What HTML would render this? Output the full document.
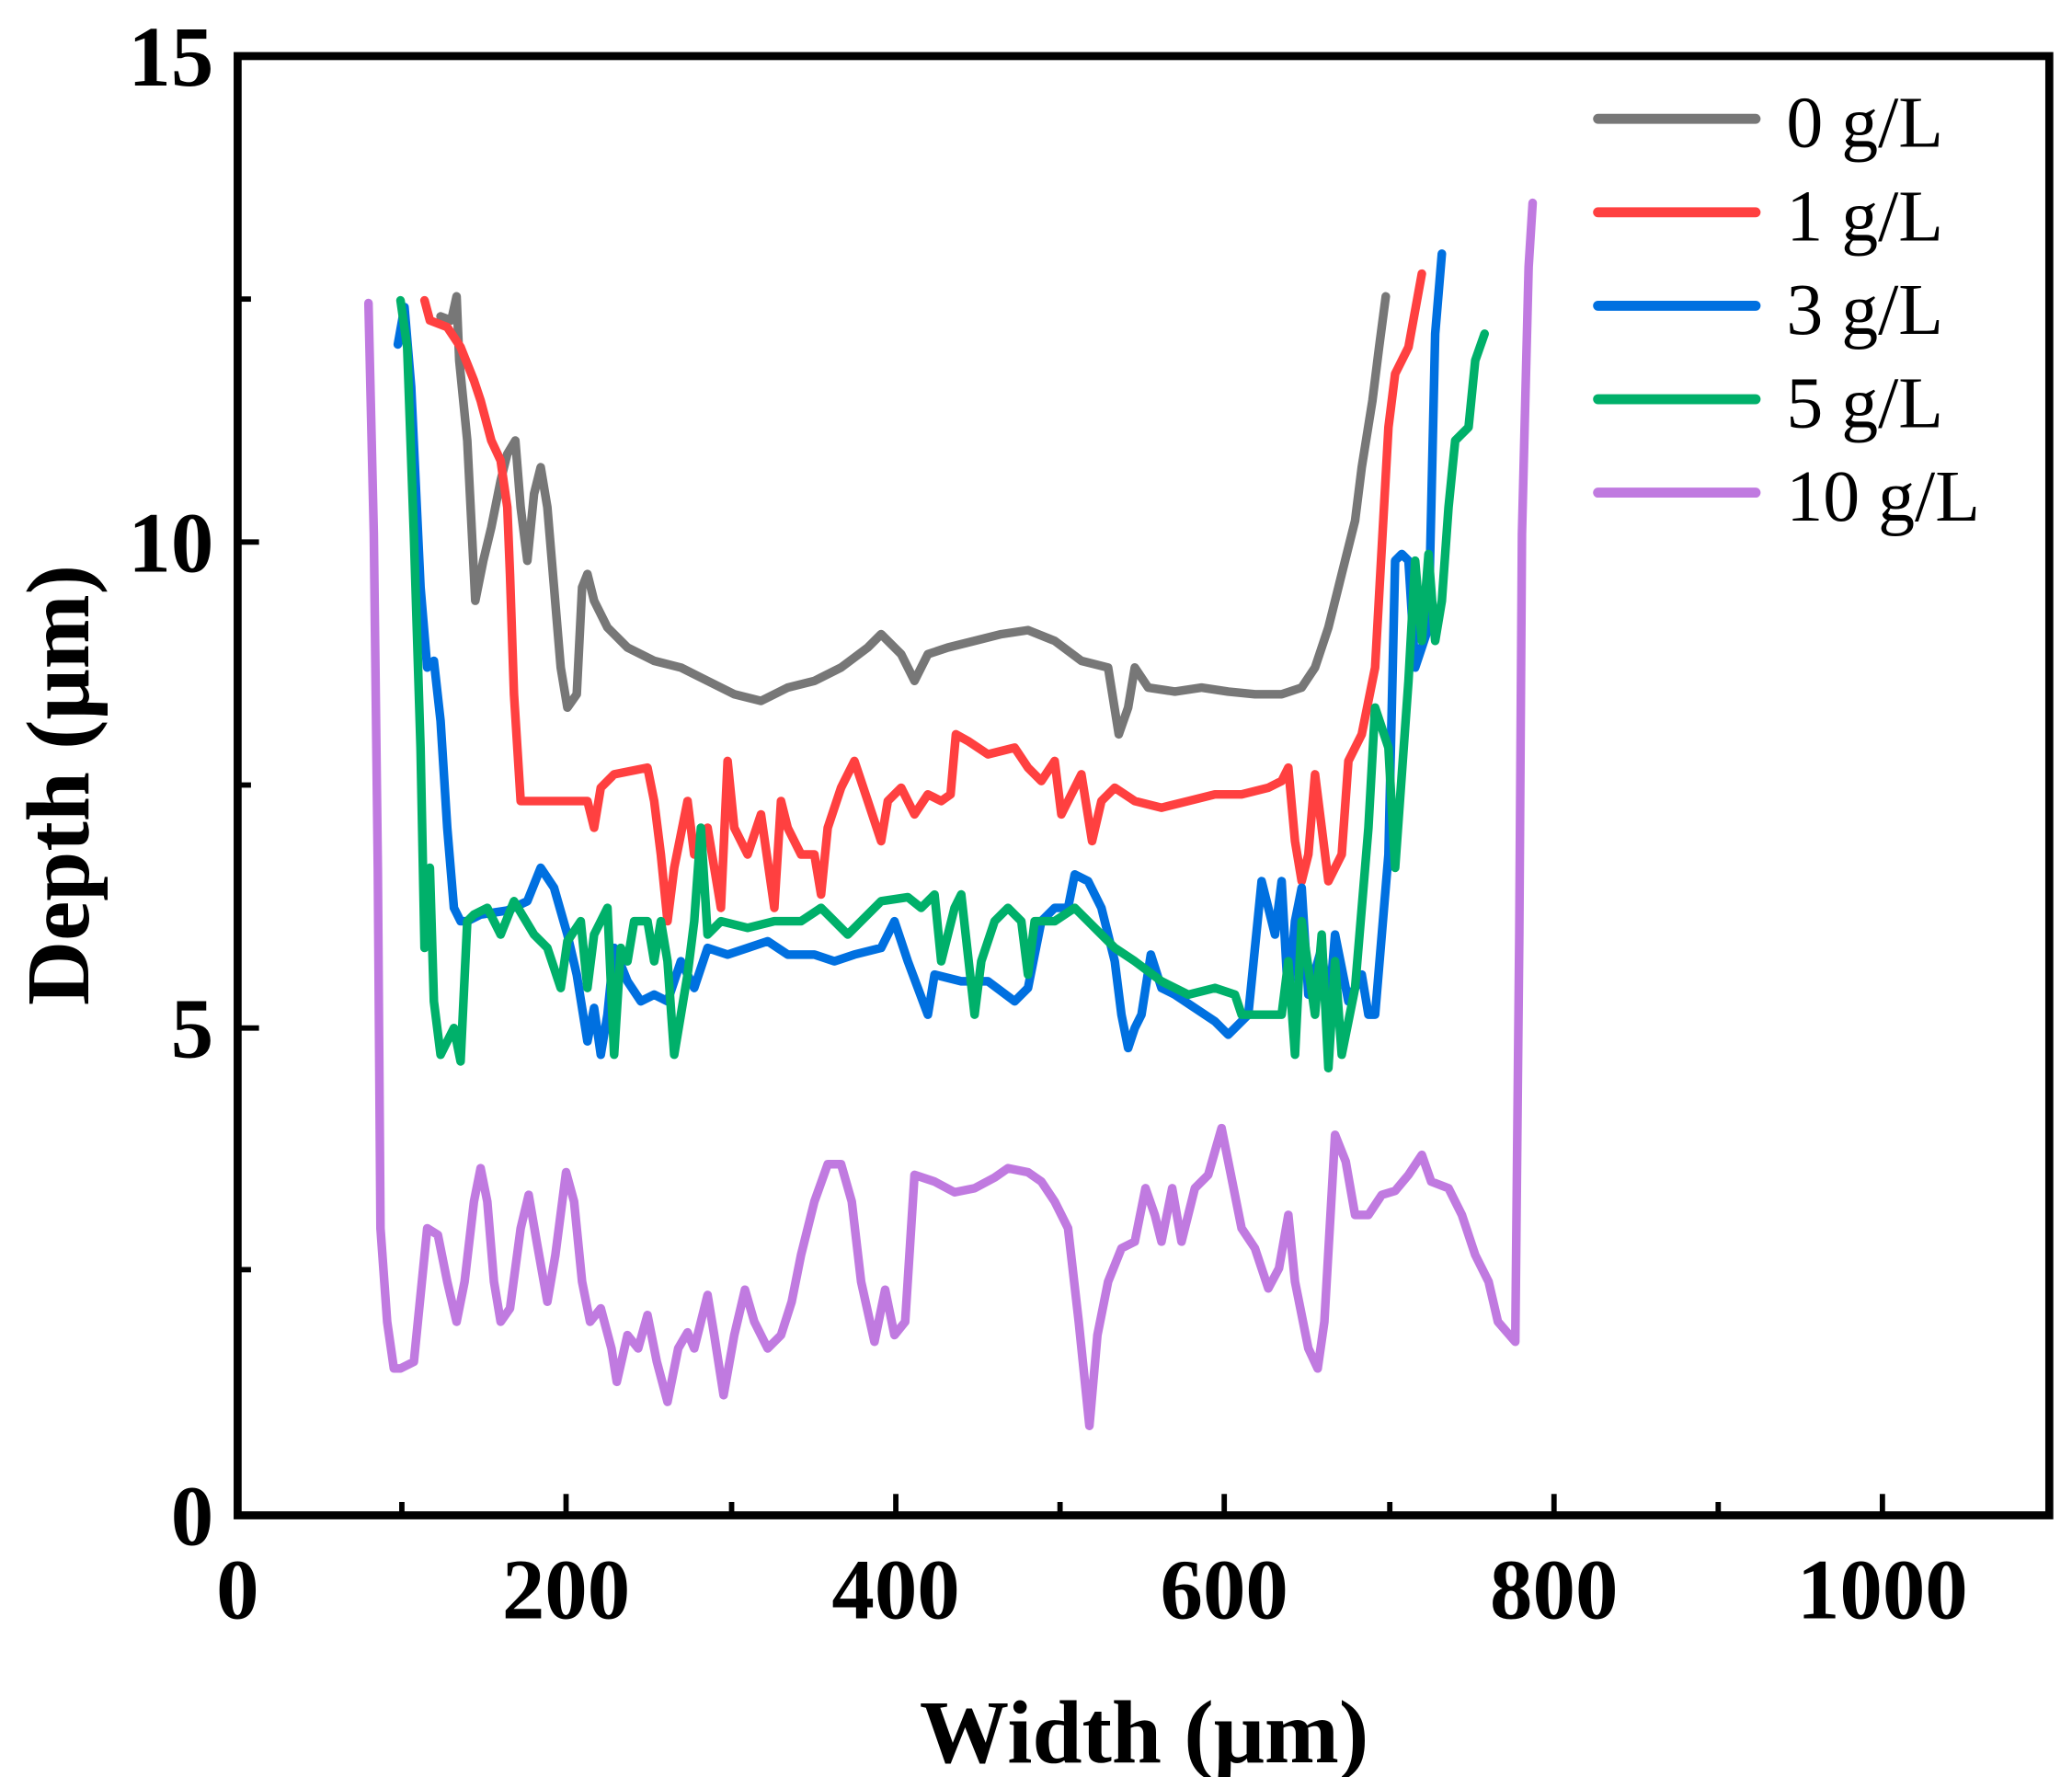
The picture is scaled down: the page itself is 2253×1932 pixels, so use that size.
<!DOCTYPE html>
<html><head><meta charset="utf-8"><style>html,body{margin:0;padding:0;background:#fff}svg{display:block}</style></head>
<body>
<svg width="2253" height="1932" viewBox="0 0 1552 1331" preserveAspectRatio="none" xmlns="http://www.w3.org/2000/svg">
<g fill="none" stroke-width="6.5" stroke-linejoin="round" stroke-linecap="round">
<polyline stroke="#777777" points="330,237 338,240 342,222 344,270 350,330 356,450 362,420 368,395 375,360 380,340 386,330 390,380 395,420 400,370 405,350 410,380 415,440 420,500 425,530 432,520 436,440 440,430 445,450 455,470 470,485 490,495 510,500 530,510 550,520 570,525 590,515 610,510 630,500 650,485 660,475 675,490 685,510 695,490 710,485 730,480 750,475 770,472 790,480 810,495 830,500 838,550 845,530 850,500 860,515 880,518 900,515 920,518 940,520 960,520 975,515 985,500 995,470 1005,430 1015,390 1020,350 1028,300 1033,260 1038,222"/>
<polyline stroke="#ff4040" points="318,225 322,240 335,245 345,260 355,285 360,300 368,330 375,345 380,380 382,430 385,520 390,600 400,600 440,600 445,620 450,590 460,580 485,575 490,600 495,640 500,690 505,650 515,600 520,640 530,620 540,680 545,570 550,620 560,640 570,610 580,680 585,600 590,620 600,640 610,640 615,670 620,620 630,590 640,570 650,600 660,630 665,600 675,590 685,610 695,595 705,600 712,595 716,550 725,555 740,565 760,560 770,575 780,585 790,570 795,610 810,580 818,630 825,600 835,590 850,600 870,605 890,600 910,595 930,595 950,590 960,585 965,575 970,630 975,660 980,640 985,580 990,620 995,660 1005,640 1010,570 1020,550 1030,500 1040,320 1045,280 1055,260 1065,205"/>
<polyline stroke="#0070e0" points="298,258 303,230 308,290 315,440 320,500 325,495 330,540 335,620 340,680 345,690 350,690 360,685 380,682 395,675 405,650 415,665 425,700 432,730 440,780 445,755 450,790 455,760 460,710 470,735 480,750 490,745 500,750 510,720 520,740 530,710 545,715 560,710 575,705 590,715 610,715 625,720 640,715 660,710 670,690 680,720 695,760 700,730 720,735 740,735 760,750 770,740 780,690 790,680 800,680 805,655 815,660 825,680 835,720 840,760 845,785 850,770 855,760 862,715 870,740 880,745 895,755 910,765 920,775 935,760 945,660 955,700 960,660 965,750 970,690 975,665 980,745 990,710 995,760 1000,700 1010,750 1020,730 1025,760 1030,760 1040,640 1045,420 1050,415 1055,420 1060,500 1070,470 1075,250 1080,190"/>
<polyline stroke="#00b06a" points="300,225 305,260 310,400 315,560 318,710 322,650 325,750 330,790 340,770 345,795 350,690 355,685 365,680 375,700 385,675 400,700 410,710 420,740 425,705 435,690 440,740 445,700 455,680 460,790 465,710 470,720 475,690 485,690 490,720 495,690 500,720 505,790 510,760 515,730 520,690 525,620 530,700 540,690 560,695 580,690 600,690 615,680 625,690 635,700 645,690 660,675 680,672 690,680 700,670 705,720 715,680 720,670 730,760 735,720 745,690 755,680 765,690 770,730 775,690 790,690 805,680 815,690 825,700 835,710 850,720 870,735 890,745 910,740 925,745 930,760 940,760 960,760 965,720 970,790 975,690 985,760 990,700 995,800 1000,720 1005,790 1015,740 1020,680 1025,620 1030,530 1040,560 1045,650 1055,510 1060,420 1065,480 1070,415 1075,480 1080,450 1085,380 1090,330 1100,320 1105,270 1112,250"/>
<polyline stroke="#c07ae0" points="276,227 280,400 283,650 285,920 290,990 295,1025 300,1025 310,1020 315,970 320,920 328,925 335,960 342,990 348,960 355,900 360,875 365,900 370,960 375,990 382,980 390,920 396,895 402,930 410,975 416,940 424,878 430,900 436,960 442,990 450,980 458,1010 462,1035 470,1000 478,1010 485,985 492,1020 500,1050 508,1010 515,998 520,1010 530,970 535,1000 542,1045 550,1000 558,966 565,990 575,1010 585,1000 593,975 600,940 610,900 620,872 630,872 638,900 645,960 655,1005 663,966 670,1000 678,990 685,880 700,885 715,893 730,890 745,882 755,875 770,878 780,885 790,900 800,920 808,990 816,1068 822,1000 830,960 840,935 850,930 858,890 865,910 870,930 878,890 885,930 895,890 905,880 915,845 920,870 930,920 940,935 950,965 958,950 965,910 970,960 980,1010 987,1025 992,990 1000,850 1008,870 1015,910 1025,910 1035,895 1045,892 1055,880 1065,865 1072,885 1085,890 1095,910 1105,940 1115,960 1122,990 1135,1005 1138,700 1140,400 1145,200 1148,152"/>
<line x1="1197" y1="89" x2="1315" y2="89" stroke="#777777" stroke-width="7.5"/>
<line x1="1197" y1="159" x2="1315" y2="159" stroke="#ff4040" stroke-width="7.5"/>
<line x1="1197" y1="229" x2="1315" y2="229" stroke="#0070e0" stroke-width="7.5"/>
<line x1="1197" y1="299" x2="1315" y2="299" stroke="#00b06a" stroke-width="7.5"/>
<line x1="1197" y1="369" x2="1315" y2="369" stroke="#c07ae0" stroke-width="7.5"/>
</g>
<g font-family="'Liberation Serif',serif" font-size="55" fill="#000">
<text x="1338" y="110">0 g/L</text>
<text x="1338" y="180">1 g/L</text>
<text x="1338" y="250">3 g/L</text>
<text x="1338" y="320">5 g/L</text>
<text x="1338" y="390">10 g/L</text>
</g>
<rect x="178" y="42" width="1357" height="1093" fill="none" stroke="#000" stroke-width="6"/>
<g stroke="#000" stroke-width="4">
<line x1="178" y1="770" x2="194" y2="770"/><line x1="178" y1="406" x2="194" y2="406"/>
<line x1="178" y1="951" x2="188" y2="951"/><line x1="178" y1="588" x2="188" y2="588"/><line x1="178" y1="224" x2="188" y2="224"/>
<line x1="424" y1="1135" x2="424" y2="1119"/><line x1="671" y1="1135" x2="671" y2="1119"/><line x1="917" y1="1135" x2="917" y2="1119"/><line x1="1164" y1="1135" x2="1164" y2="1119"/><line x1="1410" y1="1135" x2="1410" y2="1119"/>
<line x1="301" y1="1135" x2="301" y2="1125"/><line x1="548" y1="1135" x2="548" y2="1125"/><line x1="794" y1="1135" x2="794" y2="1125"/><line x1="1041" y1="1135" x2="1041" y2="1125"/><line x1="1287" y1="1135" x2="1287" y2="1125"/>
</g>
<g font-family="'Liberation Serif',serif" font-size="64" font-weight="bold" fill="#000">
<g text-anchor="end">
<text x="160" y="1157">0</text><text x="160" y="792">5</text><text x="160" y="428">10</text><text x="160" y="64">15</text>
</g>
<g text-anchor="middle">
<text x="178" y="1212">0</text><text x="424" y="1212">200</text><text x="671" y="1212">400</text><text x="917" y="1212">600</text><text x="1164" y="1212">800</text><text x="1410" y="1212">1000</text>
</g>
<text x="857" y="1320" text-anchor="middle" font-size="67">Width (μm)</text>
<text transform="translate(66,588) rotate(-90)" text-anchor="middle" font-size="67">Depth (μm)</text>
</g>
</svg>
</body></html>
